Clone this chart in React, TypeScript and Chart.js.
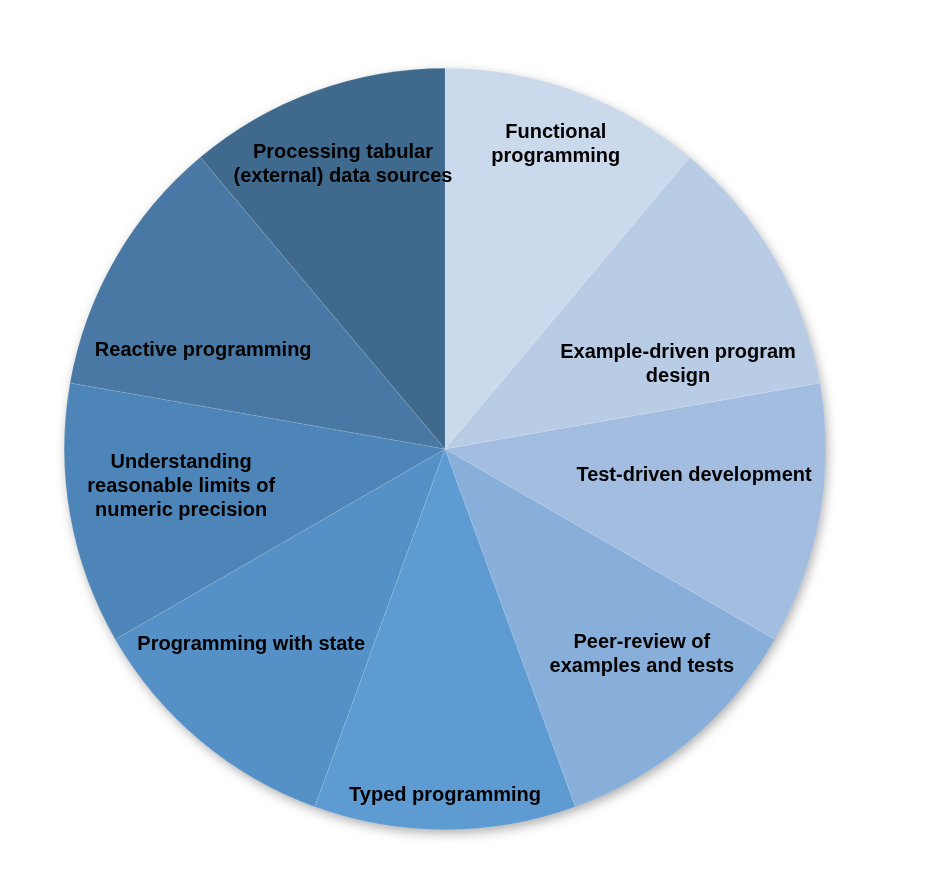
import React, { useEffect, useRef } from "react";
import { Chart, registerables } from "chart.js";

Chart.register(...registerables);

const categories: string[][] = [
  ["Functional", "programming"],
  ["Example-driven program", "design"],
  ["Test-driven development"],
  ["Peer-review of", "examples and tests"],
  ["Typed programming"],
  ["Programming with state"],
  ["Understanding", "reasonable limits of", "numeric precision"],
  ["Reactive programming"],
  ["Processing tabular", "(external) data sources"],
];

const values: number[] = [1, 1, 1, 1, 1, 1, 1, 1, 1];

const sliceColors: string[] = [
  "#cbd9ec",
  "#b8cce5",
  "#a2bde0",
  "#88afd9",
  "#5e9bd2",
  "#5590c7",
  "#4e85b8",
  "#4878a3",
  "#3f6a8e",
];

// label centre offsets, as fractions of the pie radius from the pie centre
const labelOffsets: [number, number][] = [
  [0.291, -0.806],
  [0.612, -0.228],
  [0.654, 0.063],
  [0.517, 0.535],
  [0.0, 0.906],
  [-0.509, 0.509],
  [-0.693, 0.092],
  [-0.635, -0.265],
  [-0.268, -0.753],
];

const shadowPlugin = {
  id: "pieShadow",
  beforeDatasetsDraw(chart: any) {
    const meta = chart.getDatasetMeta(0);
    const arc = meta.data[0];
    if (!arc) return;
    const ctx = chart.ctx;
    ctx.save();
    ctx.shadowColor = "rgba(0,0,0,0.35)";
    ctx.shadowBlur = 12;
    ctx.shadowOffsetX = 2;
    ctx.shadowOffsetY = 4;
    ctx.fillStyle = "#ffffff";
    ctx.beginPath();
    ctx.arc(arc.x, arc.y, arc.outerRadius - 1, 0, Math.PI * 2);
    ctx.fill();
    ctx.restore();
  },
};

const labelPlugin = {
  id: "sliceLabels",
  afterDatasetsDraw(chart: any) {
    const meta = chart.getDatasetMeta(0);
    const ctx = chart.ctx;
    ctx.save();
    ctx.font = "bold 20px 'Liberation Sans', Arial, Helvetica, sans-serif";
    ctx.fillStyle = "#000000";
    ctx.textAlign = "center";
    ctx.textBaseline = "middle";
    const lineH = 24;
    meta.data.forEach((arc: any, i: number) => {
      const lines = categories[i];
      const [fx, fy] = labelOffsets[i];
      const cx = arc.x + fx * arc.outerRadius;
      const cy = arc.y + fy * arc.outerRadius + 2;
      const top = cy - ((lines.length - 1) * lineH) / 2;
      lines.forEach((ln, j) => ctx.fillText(ln, cx, top + j * lineH));
    });
    ctx.restore();
  },
};

export default function App() {
  const ref = useRef<HTMLCanvasElement>(null);
  useEffect(() => {
    if (!ref.current) return;
    const chart = new Chart(ref.current, {
      type: "pie",
      data: {
        labels: categories.map((c) => c.join(" ")),
        datasets: [
          {
            data: values,
            backgroundColor: sliceColors,
            borderWidth: 0.5,
            borderColor: "rgba(255,255,255,0.18)",
          },
        ],
      },
      options: {
        responsive: false,
        animation: false,
        layout: { padding: { top: 68, bottom: 44, left: 64, right: 100 } },
        plugins: {
          legend: { display: false },
          tooltip: { enabled: false },
        },
      },
      plugins: [shadowPlugin, labelPlugin],
    });
    return () => chart.destroy();
  }, []);
  return (
    <div style={{ position: "absolute", left: 0, top: 0, width: 926, height: 874, background: "#fff" }}>
      <canvas ref={ref} width={926} height={874} style={{ width: 926, height: 874 }} />
    </div>
  );
}
